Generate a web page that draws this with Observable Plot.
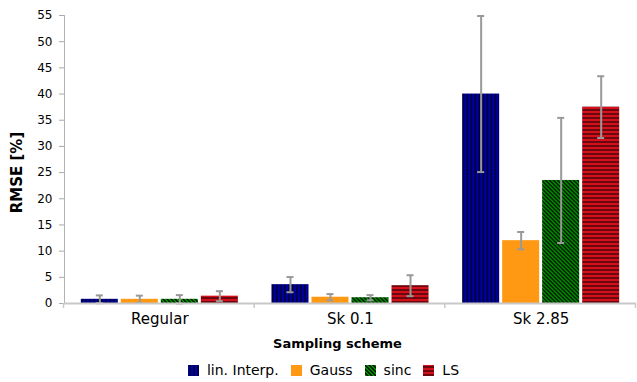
<!DOCTYPE html>
<html>
<head>
<meta charset="utf-8">
<script src="https://cdn.jsdelivr.net/npm/d3@7"></script>
<script src="https://cdn.jsdelivr.net/npm/@observablehq/plot@0.6"></script>
<style>
  html, body { margin: 0; padding: 0; background: #fff; }
  body { width: 637px; height: 382px; overflow: hidden; font-family: "DejaVu Sans", sans-serif; }
  #legend { display: flex; justify-content: center; align-items: center; height: 24px; font-size: 14px; color: #000; padding-left: 10px; }
  .item { display: flex; align-items: center; margin: 0 6px; }
  .item svg { margin-right: 8px; display: block; }
</style>
</head>
<body>
<div id="chart"></div>
<div id="legend"></div>
<script>
// ---- data ----
const groups = ["Regular", "Sk 0.1", "Sk 2.85"];
const methods = ["lin. Interp.", "Gauss", "sinc", "LS"];
const linInterp = [0.8, 3.6, 40.0];
const gauss     = [0.8, 1.2, 12.0];
const sinc      = [0.8, 1.1, 23.5];
const ls        = [1.4, 3.4, 37.5];
const errLinInterp = [0.75, 1.45, 14.9];
const errGauss     = [0.7, 0.6, 1.65];
const errSinc      = [0.8, 0.5, 11.95];
const errLs        = [0.95, 2.0, 5.9];
const yTicks = [0, 5, 10, 15, 20, 25, 30, 35, 40, 45, 50, 55];
const patternIds = ["pat-lin", null, "pat-sinc", "pat-ls"];
const baseColors = ["#0000a8", "#ff9914", "#00a000", "#d4101c"];

const values = [linInterp, gauss, sinc, ls];
const errors = [errLinInterp, errGauss, errSinc, errLs];
const fills = methods.map((m, j) => patternIds[j] ? `url(#${patternIds[j]})` : baseColors[j]);

const rows = [];
groups.forEach((g, i) => methods.forEach((m, j) => rows.push({g, m, v: values[j][i], e: errors[j][i]})));
const caps = rows.flatMap(d => [{g: d.g, m: d.m, y: d.v + d.e}, {g: d.g, m: d.m, y: d.v - d.e}]);

const errColor = "#999999";

const plot = Plot.plot({
  width: 637,
  height: 358,
  marginLeft: 64,
  marginRight: 1,
  marginTop: 15,
  marginBottom: 55,
  style: {fontFamily: "DejaVu Sans", fontSize: "12px", color: "#000", background: "#fff"},
  fx: {domain: groups, paddingInner: 0, paddingOuter: 0, label: null, round: false},
  x: {domain: methods, paddingInner: 0.075, paddingOuter: 0.42, axis: null, round: false},
  y: {domain: [0, 55], label: null},
  color: {domain: methods, range: fills},
  marks: [
    Plot.axisY({ticks: yTicks, tickSize: 5, tickPadding: 7, stroke: "#aaa", label: null}),
    Plot.axisFx({anchor: "bottom", tickSize: 0, tickPadding: 10, fontSize: 15, label: null}),
    Plot.barY(rows, {fx: "g", x: "m", y: "v", fill: "m"}),
    Plot.ruleX(rows, {fx: "g", x: "m", y1: d => d.v - d.e, y2: d => d.v + d.e, stroke: errColor, strokeWidth: 2}),
    Plot.tickY(caps, {fx: "g", x: "m", y: "y", stroke: errColor, strokeWidth: 2, insetLeft: 15, insetRight: 15}),
    Plot.ruleY([0], {stroke: "#c8c8c8", strokeWidth: 2}),
    Plot.text([{g: groups[0]}], {fx: "g", text: () => "RMSE [%]", frameAnchor: "left", textAnchor: "middle", rotate: -90, dx: -47, dy: 13, fontWeight: "bold", fontSize: 15}),
    Plot.text([{g: groups[1]}], {fx: "g", text: () => "Sampling scheme", frameAnchor: "bottom", textAnchor: "middle", dx: -13, dy: 44, lineAnchor: "bottom", fontWeight: "bold", fontSize: 13})
  ]
});

// ---- pattern definitions ----
const svg = d3.select(plot);
const defs = svg.insert("defs", ":first-child");
const pl = defs.append("pattern").attr("id", "pat-lin").attr("patternUnits", "userSpaceOnUse").attr("width", 4).attr("height", 4);
pl.append("rect").attr("width", 4).attr("height", 4).attr("fill", baseColors[0]);
pl.append("rect").attr("x", 1.5).attr("width", 1.2).attr("height", 4).attr("fill", "#000");
const ps = defs.append("pattern").attr("id", "pat-sinc").attr("patternUnits", "userSpaceOnUse").attr("width", 4).attr("height", 4);
ps.append("rect").attr("width", 4).attr("height", 4).attr("fill", baseColors[2]);
ps.append("path").attr("d", "M-1,-1L5,5M-1,3L1,5M3,-1L5,1").attr("stroke", "#000").attr("stroke-width", 1.3);
const pr = defs.append("pattern").attr("id", "pat-ls").attr("patternUnits", "userSpaceOnUse").attr("width", 4).attr("height", 4);
pr.append("rect").attr("width", 4).attr("height", 4).attr("fill", baseColors[3]);
pr.append("rect").attr("y", 1.5).attr("width", 4).attr("height", 1).attr("fill", "#000");

// ---- axis line and group separators from the plot's scales ----
const fx = plot.scale("fx"), y = plot.scale("y");
const xLeft = fx.apply(groups[0]);
const bounds = groups.map(g => fx.apply(g)).concat([fx.apply(groups[groups.length - 1]) + fx.bandwidth]);
const yBase = y.apply(0), yTop = y.apply(55);
const g = svg.append("g").attr("stroke", "#b4b4b4");
g.append("line").attr("x1", xLeft + 0.5).attr("x2", xLeft + 0.5).attr("y1", yTop).attr("y2", yBase);
bounds.forEach(b => g.append("line").attr("x1", b - 0.5).attr("x2", b - 0.5).attr("y1", yBase).attr("y2", yBase + 5).attr("stroke-width", 1.5).attr("stroke", "#c8c8c8"));

document.getElementById("chart").appendChild(plot);

// ---- legend ----
const legend = d3.select("#legend");
methods.forEach((m, j) => {
  const it = legend.append("div").attr("class", "item");
  const sw = it.append("svg").attr("width", 11).attr("height", 11);
  sw.append("rect").attr("width", 11).attr("height", 11).attr("fill", fills[j]);
  it.append("span").text(m);
});
</script>
</body>
</html>
